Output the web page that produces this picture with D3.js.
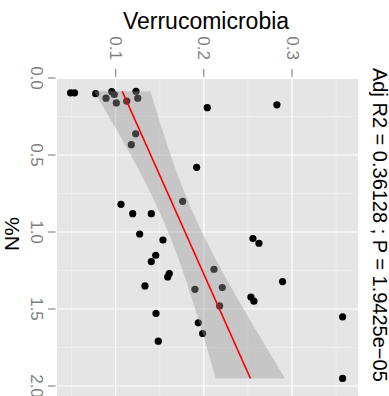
<!DOCTYPE html>
<html><head><meta charset="utf-8">
<script src="https://cdn.jsdelivr.net/npm/d3@7"></script>
<style>body{margin:0;background:#fff}svg{display:block}text{font-family:"Liberation Sans",Arial,sans-serif}</style>
</head><body>
<svg id="c" width="389" height="396"></svg>
<script>
// N% values (vertical axis) and Verrucomicrobia relative abundance (horizontal axis)
const nPct = [0.096,0.096,0.102,0.089,0.131,0.107,0.162,0.150,0.086,0.131,0.193,0.174,0.362,0.433,0.580,0.801,0.820,0.881,0.881,1.013,1.052,1.043,1.073,1.151,1.192,1.242,1.270,1.292,1.322,1.350,1.372,1.361,1.422,1.449,1.480,1.529,1.551,1.590,1.659,1.709,1.951];
const verruco = [0.0488,0.0533,0.0773,0.0955,0.0890,0.0984,0.1007,0.1125,0.1230,0.1250,0.2039,0.2829,0.1227,0.1177,0.1918,0.1760,0.1060,0.1193,0.1404,0.1272,0.1536,0.2557,0.2625,0.1454,0.1404,0.2115,0.1608,0.1590,0.2893,0.1332,0.1899,0.2209,0.2534,0.2568,0.2179,0.1457,0.3574,0.1937,0.1986,0.1483,0.3574];
const xTicks = [0.1,0.2,0.3];
const xMinor = [0.05,0.15,0.25,0.35];
const yTicks = [0.0,0.5,1.0,1.5,2.0];
const yMinor = [0.25,0.75,1.25,1.75];
const yTickLabels = ["0.0","0.5","1.0","1.5","2.0"];
const xTickLabels = ["0.1","0.2","0.3"];
const titleText = "Verrucomicrobia";
const yTitle = "N%";
const annText = "Adj R2 =  0.36128 ; P = 1.9425e\u221205";
const tCrit = 2.0227; // t(0.975, df = 39)

const svg = d3.select("#c");
const P = {l:57, r:358, t:79, b:400};
const x = d3.scaleLinear().domain([0.1,0.3]).range([115.7,292]);
const y = d3.scaleLinear().domain([0,2]).range([78,386]);

svg.append("rect").attr("x",P.l).attr("y",P.t).attr("width",P.r-P.l).attr("height",P.b-P.t).attr("fill","#E5E5E5");
const g = svg.append("g");
g.selectAll(".xm").data(xMinor).join("line").attr("x1",d=>x(d)).attr("x2",d=>x(d)).attr("y1",P.t).attr("y2",P.b).attr("stroke","#F2F2F2").attr("stroke-width",0.6);
g.selectAll(".ym").data(yMinor).join("line").attr("y1",d=>y(d)).attr("y2",d=>y(d)).attr("x1",P.l).attr("x2",P.r).attr("stroke","#F2F2F2").attr("stroke-width",0.6);
g.selectAll(".xM").data(xTicks).join("line").attr("x1",d=>x(d)).attr("x2",d=>x(d)).attr("y1",P.t).attr("y2",P.b).attr("stroke","#fff").attr("stroke-width",1.2);
g.selectAll(".yM").data(yTicks.filter(d=>y(d)>P.t)).join("line").attr("y1",d=>y(d)).attr("y2",d=>y(d)).attr("x1",P.l).attr("x2",P.r).attr("stroke","#fff").attr("stroke-width",1.2);

// points
const pts = nPct.map((n,i)=>({n, v:verruco[i]}));
svg.append("g").selectAll("circle").data(pts).join("circle")
  .attr("cx",d=>x(d.v)).attr("cy",d=>y(d.n)).attr("r",3.6).attr("fill","#000");

// linear fit v ~ n with 95% CI
const N = pts.length;
const mn = d3.mean(pts,d=>d.n), mv = d3.mean(pts,d=>d.v);
const Sxx = d3.sum(pts,d=>(d.n-mn)**2), Sxy = d3.sum(pts,d=>(d.n-mn)*(d.v-mv));
const b1 = Sxy/Sxx, b0 = mv - b1*mn;
const s = Math.sqrt(d3.sum(pts,d=>(d.v-b0-b1*d.n)**2)/(N-2));
const ext = d3.extent(pts,d=>d.n);
const grid = d3.range(0,81).map(i=>ext[0]+(ext[1]-ext[0])*i/80);
const band = grid.map(n=>{const f=b0+b1*n; const se=s*Math.sqrt(1/N+(n-mn)**2/Sxx); return {n,f,lo:f-tCrit*se,hi:f+tCrit*se};});
svg.append("path").datum(band).attr("fill","#999").attr("fill-opacity",0.4)
  .attr("d",d3.area().y(d=>y(d.n)).x0(d=>x(d.lo)).x1(d=>x(d.hi)));
svg.append("path").datum(band).attr("fill","none").attr("stroke","#FF0000").attr("stroke-width",1.6)
  .attr("d",d3.line().y(d=>y(d.n)).x(d=>x(d.f)));

// clip overflow beyond panel right/left is not needed
// ticks
const tc = "#7F7F7F";
svg.selectAll(".tx").data(xTicks).join("line").attr("x1",d=>x(d)).attr("x2",d=>x(d)).attr("y1",69).attr("y2",77).attr("stroke",tc).attr("stroke-width",1.1);
svg.selectAll(".ty").data(yTicks).join("line").attr("y1",d=>y(d)).attr("y2",d=>y(d)).attr("x1",48).attr("x2",55.5).attr("stroke",tc).attr("stroke-width",1.1);
svg.selectAll(".lx").data(xTicks).join("text").attr("transform",d=>`translate(${x(d)},60) rotate(90)`)
  .attr("text-anchor","end").attr("dominant-baseline","central").attr("fill",tc).attr("font-size",17).text((d,i)=>xTickLabels[i]);
svg.selectAll(".ly").data(yTicks).join("text").attr("transform",d=>`translate(36,${y(d)}) rotate(90)`)
  .attr("text-anchor","middle").attr("dominant-baseline","central").attr("fill",tc).attr("font-size",17).text((d,i)=>yTickLabels[i]);
svg.append("text").attr("x",206).attr("y",29).attr("text-anchor","middle").attr("font-size",23).attr("fill","#000").text(titleText);
svg.append("text").attr("transform","translate(11,234) rotate(-90)").attr("text-anchor","middle").attr("dominant-baseline","central").attr("font-size",21).attr("fill","#000").text(yTitle);
svg.append("text").attr("transform","translate(380,68) rotate(90)").attr("text-anchor","start").attr("dominant-baseline","central").attr("font-size",20).attr("fill","#000").text(annText);
</script>
</body></html>
